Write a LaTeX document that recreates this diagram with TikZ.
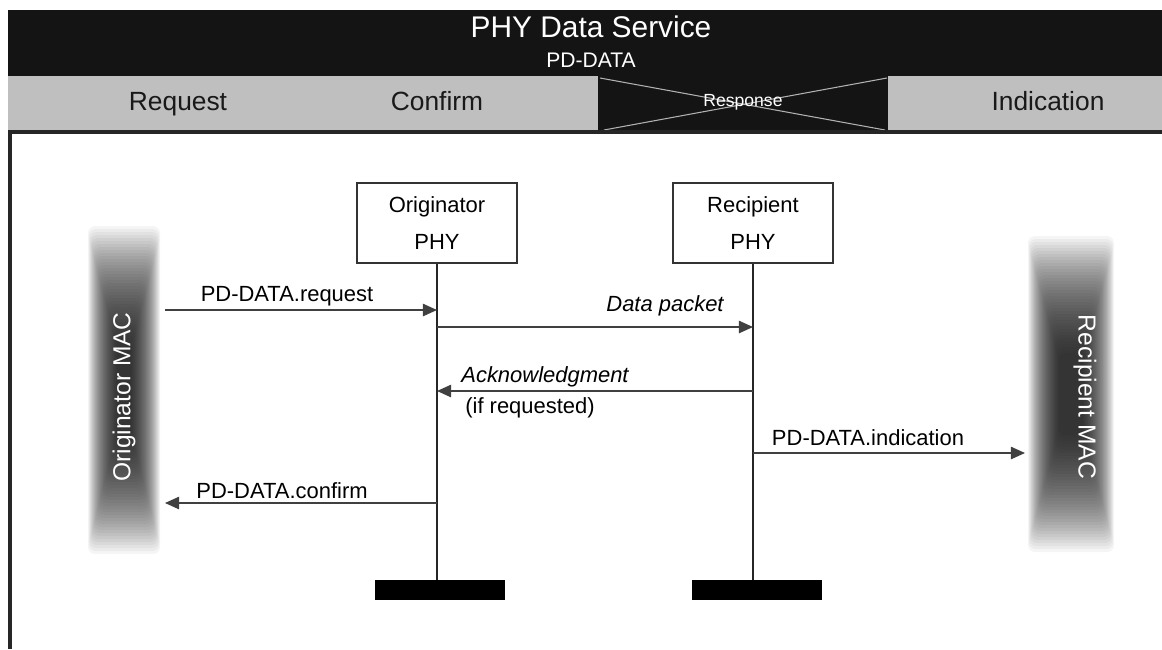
\documentclass[tikz,border=0pt]{standalone}
\usepackage{fontspec}
\setmainfont{Liberation Sans}
\usetikzlibrary{arrows.meta}

\begin{document}
\begin{tikzpicture}[x=0.02cm,y=-0.02cm,
    phy/.style={draw=black!80,line width=1pt,fill=white,minimum width=3.2cm,minimum height=1.6cm,align=center,font=\fontsize{12.5}{15}\selectfont},
    msg/.style={draw=black!75,line width=0.9pt,-{Triangle[length=8pt,width=7pt]}},
    lbl/.style={font=\fontsize{12.5}{15}\selectfont},
    lifeline/.style={draw=black!85,line width=0.8pt},
    endbar/.style={fill=black,minimum width=2.6cm,minimum height=0.4cm,inner sep=0pt},
    head/.style={anchor=base,font=\fontsize{15}{18}\selectfont,text=black!90},
    glow/.style={fill=black,fill opacity=0.04,rounded corners=4pt},
    maclbl/.style={text=white,font=\fontsize{14}{16}\selectfont}]
    \useasboundingbox (0,0) rectangle (1162,649);

    %Header
    \fill[black!92] (8,10) rectangle (1162,76);
    \fill[black!25] (8,76) rectangle (1162,131);
    \fill[black!92] (598,76) rectangle (888,131);
    \draw[black!30,line width=0.6pt] (600,78)--(885,130);
    \draw[black!30,line width=0.6pt] (604,130)--(887,78);
    \draw[black!85,line width=2pt] (8,132)--(1162,132);
    \draw[black!85,line width=2.2pt] (10,132)--(10,649);
    \node[text=white,font=\fontsize{17}{20}\selectfont] (title) at (591,27) {PHY Data Service};
    \node[text=white,font=\fontsize{12}{14}\selectfont] (prim) at (591,60) {PD-DATA};
    \node[head] (hreq) at (178,110) {Request};
    \node[head] (hconf) at (437,110) {Confirm};
    \node[text=white,font=\fontsize{10}{12}\selectfont] (hresp) at (743,102) {Response};
    \node[head] (hind) at (1048,110) {Indication};

    %MAC layers (soft bars)
    \foreach \i in {0,...,39}{
      \fill[glow] (88+0.75*\i,226+3*\i) rectangle (160-0.75*\i,554-3*\i);
      \fill[glow] (1028+0.8*\i,236+3*\i) rectangle (1114-0.8*\i,552-3*\i);
    }
    \node[maclbl,rotate=90] (omac) at (124,397) {Originator MAC};
    \node[maclbl,rotate=-90] (rmac) at (1085,397) {Recipient MAC};

    %PHY entities
    \node[phy] (orig) at (437,223) {Originator\\[6pt]PHY};
    \node[phy] (recp) at (753,223) {Recipient\\[6pt]PHY};
    \node[endbar] (obar) at (440,590) {};
    \node[endbar] (rbar) at (757,590) {};
    \draw[lifeline] (orig)--(orig |- obar.north);
    \draw[lifeline] (recp)--(recp |- rbar.north);

    %Messages
    \coordinate (reqstart) at (165,310);
    \coordinate (confend) at (165,503);
    \coordinate (indend) at (1025,453);
    \draw[msg] (reqstart)--(reqstart -| orig);
    \draw[msg] (orig |- 0,327)--(recp |- 0,327);
    \draw[msg] (recp |- 0,391)--(orig |- 0,391);
    \draw[msg] (recp |- indend)--(indend);
    \draw[msg] (orig |- confend)--(confend);
    \node[lbl] (lreq) at (287,296) {PD-DATA.request};
    \node[lbl,font=\fontsize{12.5}{15}\selectfont\itshape] (ldata) at (665,306) {Data packet};
    \node[lbl,font=\fontsize{12.5}{15}\selectfont\itshape] (lack) at (545,377) {Acknowledgment};
    \node[lbl] (lif) at (530,408) {(if requested)};
    \node[lbl] (lind) at (868,438) {PD-DATA.indication};
    \node[lbl] (lconf) at (282,491) {PD-DATA.confirm};
\end{tikzpicture}
\end{document}
